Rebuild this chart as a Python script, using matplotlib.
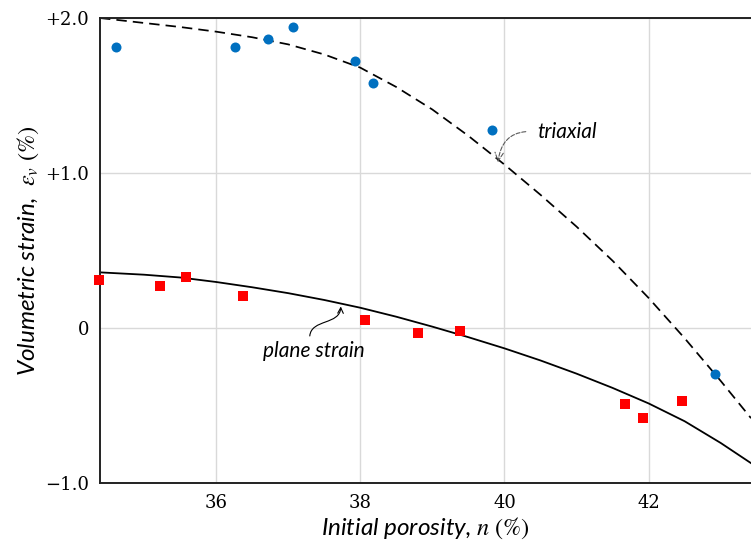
import numpy as np
import matplotlib.pyplot as plt
from matplotlib.patches import FancyArrowPatch
from matplotlib.path import Path

# measured points: triaxial tests (blue) and plane strain tests (red)
tri_n = [34.61, 36.26, 36.72, 37.07, 37.93, 38.18, 39.83, 42.92]
tri_ev = [1.81, 1.81, 1.865, 1.94, 1.72, 1.58, 1.28, -0.295]
ps_n = [34.38, 35.22, 35.58, 36.37, 38.07, 38.80, 39.38, 41.67, 41.92, 42.46]
ps_ev = [0.31, 0.275, 0.33, 0.21, 0.05, -0.03, -0.02, -0.49, -0.58, -0.47]

# trend curves
curve_n = [34.39, 35.0, 35.5, 36.0, 36.5, 37.0, 37.5, 38.0, 38.5, 39.0,
           39.5, 40.0, 40.5, 41.0, 41.5, 42.0, 42.5, 43.0, 43.42]
tri_fit = [2.0, 1.968, 1.942, 1.912, 1.876, 1.83, 1.765, 1.68, 1.555, 1.41,
           1.24, 1.055, 0.86, 0.655, 0.435, 0.195, -0.065, -0.34, -0.58]
ps_fit = [0.36, 0.345, 0.327, 0.298, 0.264, 0.226, 0.182, 0.132, 0.074, 0.01,
          -0.058, -0.13, -0.208, -0.293, -0.385, -0.485, -0.60, -0.74, -0.87]

xticks = [36, 38, 40, 42]
yticks = [2, 1, 0, -1]
ytick_labels = ['+2.0', '+1.0', '0', '\u22121.0']

plt.rcParams['mathtext.fontset'] = 'stix'

fig = plt.figure(figsize=(7.51, 5.5), dpi=100)
ax = fig.add_axes([100 / 751, 66.7 / 550, 651 / 751, 465.3 / 550])

ax.plot(curve_n, tri_fit, color='black', lw=1.25, ls=(0, (6, 3.5)), zorder=2)
ax.plot(curve_n, ps_fit, color='black', lw=1.3, zorder=2)
ax.plot(tri_n, tri_ev, 'o', color='#0070C0', ms=7.2, mew=0, zorder=3, clip_on=False)
ax.plot(ps_n, ps_ev, 's', color='#FF0000', ms=7.8, mew=0, zorder=3, clip_on=False)

ax.set_xlim(34.39, 43.42)
ax.set_ylim(-1.0, 2.0)
ax.set_xticks(xticks)
ax.set_yticks(yticks)
ax.set_yticklabels(ytick_labels)
ax.tick_params(length=0, labelsize=13, pad=8)
for lab in ax.get_xticklabels() + ax.get_yticklabels():
    lab.set_family('DejaVu Serif')
ax.grid(color='#d9d9d9', lw=1.0, zorder=0)
ax.set_axisbelow(True)

for side in ['left', 'bottom', 'top']:
    ax.spines[side].set_linewidth(1.4)
    ax.spines[side].set_color('#222222')
ax.spines['right'].set_visible(False)

ax.set_xlabel(r'Initial porosity, $n$ $\mathrm{(\%)}$', family='Lato',
              style='italic', fontsize=17.5, labelpad=2)
ax.set_ylabel(r'Volumetric strain,  $\varepsilon_v$ $\mathrm{(\%)}$', family='Lato',
              style='italic', fontsize=17.5, labelpad=3)

# labels for the two curves
ax.annotate('triaxial', xy=(39.91, 1.07), xytext=(40.45, 1.265),
            family='Lato', style='italic', fontsize=15, ha='left', va='center',
            arrowprops=dict(arrowstyle='->', color='0.35', lw=0.8, ls='--',
                            relpos=(0, 0.5), shrinkA=6, shrinkB=0,
                            connectionstyle='arc3,rad=0.5'))

ax.text(37.35, -0.15, 'plane strain', family='Lato', style='italic',
        fontsize=15, ha='center', va='center')
verts = [(37.30, -0.05), (37.32, 0.06), (37.72, 0.02), (37.73, 0.14)]
arrow = FancyArrowPatch(path=Path(verts, [Path.MOVETO, Path.CURVE4, Path.CURVE4, Path.CURVE4]),
                        arrowstyle='->', mutation_scale=10, color='black', lw=0.8,
                        transform=ax.transData)
ax.add_patch(arrow)

fig.savefig('out.png', dpi=100)
